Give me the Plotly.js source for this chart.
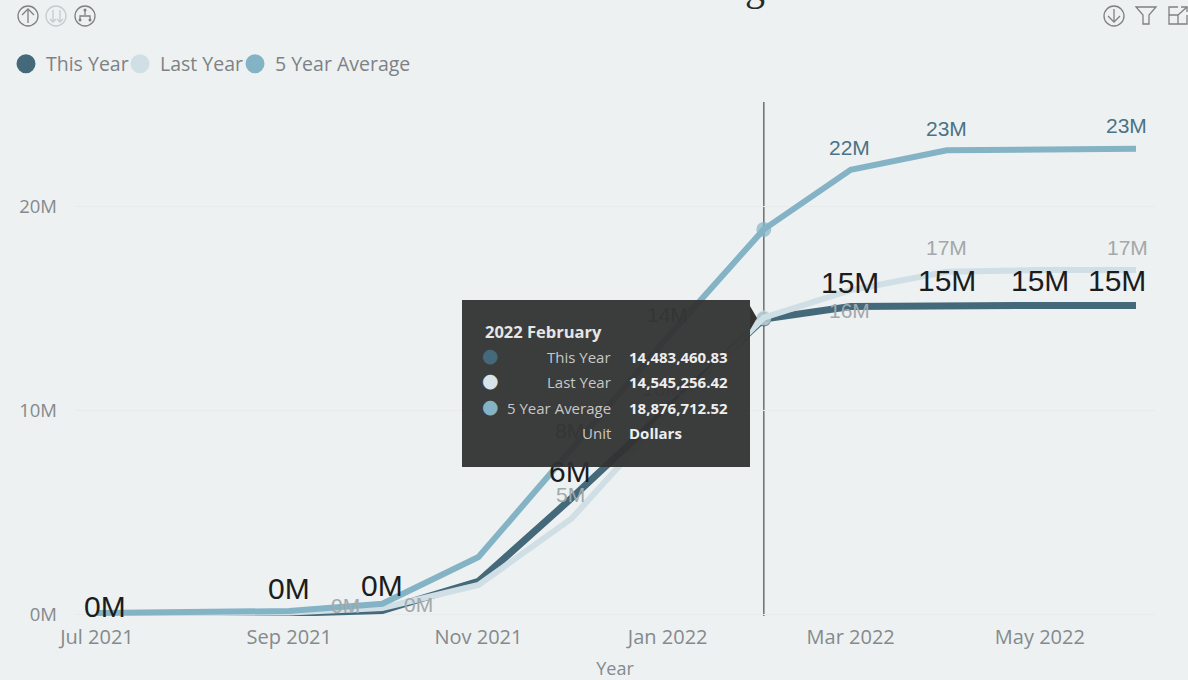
<!DOCTYPE html>
<html>
<head>
<meta charset="utf-8">
<script src="https://cdn.plot.ly/plotly-3.0.1.min.js"></script>
<style>html,body{margin:0;padding:0;overflow:hidden;background:#edf1f2}#c{width:1188px;height:680px}</style>
</head>
<body>
<div id="c"></div>
<script>
// ---------- data ----------
const months = ['2021-07-01','2021-08-01','2021-09-01','2021-10-01','2021-11-01','2021-12-01','2022-01-01','2022-02-01','2022-03-01','2022-04-01','2022-05-01','2022-06-01'];
const thisYear = [20000,30000,60000,200000,1620000,5700000,10100000,14483460.83,15100000,15150000,15150000,15150000];
const lastYear = [30000,40000,100000,320000,1450000,4700000,9900000,14545256.42,15900000,16800000,16880000,16880000];
const fiveYearAvg = [80000,90000,170000,530000,2820000,8100000,13600000,18876712.52,21800000,22750000,22820000,22830000];
const thisYearLabels = ['0M','','0M','0M','','6M','','','15M','15M','15M','15M'];
const lastYearLabels = ['','','0M','0M','','5M','10M','','16M','17M','','17M'];
const fiveYearLabels = ['','','','','','8M','14M','','22M','23M','','23M'];
const seriesNames = ['This Year','Last Year','5 Year Average'];
const yTickVals = [0,10000000,20000000];
const yTickText = ['0M','10M','20M'];
const tooltipTitle = '2022 February';
const tooltipRows = ['This Year','Last Year','5 Year Average','Unit'];
const tooltipVals = ['14,483,460.83','14,545,256.42','18,876,712.52','Dollars'];
const focusMonth = '2022-02-01';

// ---------- style ----------
const W = 1188, H = 680, L = 75, R = 33, T = 102, B = 64;
const cThis = '#44697a', cLast = '#cfdfe5', cAvg = '#84b3c5';
const bg = '#edf1f2';
const sans = '"Open Sans", "Noto Sans", sans-serif', arial = '"Liberation Sans", Arial, sans-serif';
const px = x => (x - L) / (W - L - R);
const py = y => 1 - (y - T) / (H - T - B);
const P = (pts, close) => 'M' + pts.map(p => px(p[0]).toFixed(5) + ',' + py(p[1]).toFixed(5)).join(' L') + (close ? ' Z' : '');

function lineTrace(name, ys, color, width) {
  return { type:'scatter', mode:'lines+markers', name, x:months, y:ys, showlegend:false, hoverinfo:'skip',
    line:{color, width, shape:'linear'},
    marker:{color, size:months.map(m => m === focusMonth ? 15 : 0), line:{width:0}} };
}
function legendTrace(name, color, legendId) {
  return { type:'scatter', mode:'markers', name, x:[null], y:[null], showlegend:true, legend:legendId, hoverinfo:'skip',
    marker:{color, size:16, line:{color, width:3}} };
}
const traces = [
  lineTrace(seriesNames[0], thisYear, cThis, 7),
  lineTrace(seriesNames[1], lastYear, cLast, 6),
  lineTrace(seriesNames[2], fiveYearAvg, cAvg, 6),
  legendTrace(seriesNames[0], cThis, 'legend'),
  legendTrace(seriesNames[1], cLast, 'legend2'),
  legendTrace(seriesNames[2], cAvg, 'legend3')
];

// label placement relative to the data point, in pixels [right, up]
const thisOffsets = {0:[8,8],2:[0,25],3:[0,25],5:[-2,27],8:[-1,24],9:[0,25],10:[0,25],11:[-19,25]};
const lastOffsets = {2:[56,7],3:[36,3],5:[-1,24],6:[-5,24],8:[-1,-20],9:[0,24],11:[-9,23]};
const avgOffsets = {5:[-2,19],6:[0,23],8:[-1,22],9:[0,22],11:[-10,23]};
const annotations = [];
function addLabels(labels, ys, offs, size, color) {
  labels.forEach((t,i) => { if(!t) return;
    annotations.push({xref:'x',yref:'y',x:months[i],y:ys[i],text:t,showarrow:false,xanchor:'center',yanchor:'middle',
      xshift:offs[i][0],yshift:offs[i][1],font:{family:arial,size,color},borderpad:0}); });
}
addLabels(lastYearLabels,lastYear,lastOffsets,21,'#a3a8aa');
addLabels(fiveYearLabels,fiveYearAvg,avgOffsets,21,'#4a7385');
addLabels(thisYearLabels,thisYear,thisOffsets,30,'#1c1c1c');

// tooltip panel (annotation so it covers the labels and lines beneath it)
annotations.push({xref:'paper',yref:'paper',x:px(462),y:py(299.5),xanchor:'left',yanchor:'top',text:' ',showarrow:false,
  width:288,height:167,bgcolor:'rgba(50,50,50,0.95)',borderpad:0,borderwidth:0});
const tip = (x,y,text,anchor,size,bold,color) => annotations.push({xref:'paper',yref:'paper',x:px(x),y:py(y),text:bold?'<b>'+text+'</b>':text,
  showarrow:false,xanchor:anchor,yanchor:'middle',font:{family:sans,size,color},borderpad:0});
tip(484,331,tooltipTitle,'left',16.5,true,'#e6e6e6');
const rowY = [357,382,408,433];
tooltipRows.forEach((r,i)=>{ tip(612,rowY[i],r,'right',15,false,'#c8c8c8'); tip(628,rowY[i],tooltipVals[i],'left',15,true,'#eeeeee'); });

// clipped report title descender at the very top of the frame
annotations.push({xref:'paper',yref:'paper',x:px(755),y:py(10),xanchor:'center',yanchor:'bottom',text:'g',showarrow:false,
  font:{family:'"Liberation Serif", serif',size:40,color:'#2a2a2a'},borderpad:0});

// ---------- shapes: crosshair, tooltip pointer, header icons ----------
const iconCol = '#808080', iconDim = '#c6cacc';
const shapes = [
  {type:'line',xref:'x',yref:'paper',x0:focusMonth,x1:focusMonth,y0:0,y1:1,line:{color:'#6e6e6e',width:1.5},layer:'below'},
  {type:'path',xref:'paper',yref:'paper',path:P([[750,306],[757,318],[750,330]],true),fillcolor:'#333333',line:{width:0},layer:'above'}
];
const circ = (x,y,r,fill,line,lw) => shapes.push({type:'circle',xref:'paper',yref:'paper',x0:px(x-r),x1:px(x+r),y0:py(y+r),y1:py(y-r),
  fillcolor:fill,line:{color:line,width:lw},layer:'above'});
const stroke = (pts,col,close) => shapes.push({type:'path',xref:'paper',yref:'paper',path:P(pts,close),line:{color:col,width:1.3},fillcolor:'rgba(0,0,0,0)',layer:'above'});
circ(28,16,10,'rgba(0,0,0,0)',iconCol,1.3); stroke([[28,23],[28,9]],iconCol); stroke([[22,15],[28,9],[34,15]],iconCol);
circ(56,16,10,'rgba(0,0,0,0)',iconDim,1.3); stroke([[53,10],[53,22]],iconDim); stroke([[50,19],[53,22],[56,19]],iconDim); stroke([[60,10],[60,22]],iconDim); stroke([[57,19],[60,22],[63,19]],iconDim);
circ(85,16,10,'rgba(0,0,0,0)',iconCol,1.3); stroke([[85,10],[85,15]],iconCol); stroke([[80,20],[80,16],[90,16],[90,20]],iconCol); circ(85,10,1.5,iconCol,iconCol,0); circ(80,20,1.5,iconCol,iconCol,0); circ(90,20,1.5,iconCol,iconCol,0);
circ(1114,16,10,'rgba(0,0,0,0)',iconCol,1.3); stroke([[1114,9],[1114,22]],iconCol); stroke([[1108,16],[1114,22],[1120,16]],iconCol);
stroke([[1136,7],[1156,7],[1149,15],[1149,24],[1143,24],[1143,15]],iconCol,true);
stroke([[1178,7],[1169,7],[1169,24],[1187,24],[1187,15]],iconCol); stroke([[1169,15],[1178,15],[1178,24]],iconCol); stroke([[1178,15],[1187,7]],iconCol); stroke([[1181,7],[1187,7],[1187,12]],iconCol);
// tooltip colour dots sit on top of the panel
const tooltipDots = [cThis,'#d8e4e9',cAvg];
tooltipDots.forEach((c,i)=>annotations.push({xref:'paper',yref:'paper',x:px(490),y:py(rowY[i]),yshift:2,text:'●',showarrow:false,xanchor:'center',yanchor:'middle',
  font:{family:'"DejaVu Sans"',size:19,color:c},borderpad:0}));

const legendBase = dotX => ({orientation:'h',xref:'container',yref:'container',x:(dotX-20)/W,xanchor:'left',y:1-64/H,yanchor:'middle',bgcolor:'rgba(0,0,0,0)',
  font:{family:sans,size:19.5,color:'#7d8284'},itemwidth:30,itemclick:false,itemdoubleclick:false});

const layout = {
  width:W,height:H,margin:{l:L,r:R,t:T,b:B,pad:0},autosize:false,
  paper_bgcolor:bg,plot_bgcolor:bg,
  font:{family:sans,color:'#858a8c'},
  showlegend:true,
  legend:legendBase(26),legend2:legendBase(140),legend3:legendBase(255),
  xaxis:{type:'date',range:['2021-06-23 22:00','2022-06-07 03:00'],tick0:'2021-07-01',dtick:'M2',tickformat:'%b %Y',showgrid:false,zeroline:false,showline:false,
    ticks:'',ticklabelstandoff:7,tickfont:{family:sans,size:20,color:'#858a8c'},
    title:{text:'Year',font:{family:sans,size:18,color:'#858a8c'},standoff:15}},
  yaxis:{range:[-73000,25120000],tickvals:yTickVals,ticktext:yTickText,showgrid:true,gridcolor:'#e7ebec',gridwidth:1.2,zeroline:false,showline:false,
    ticks:'',ticklabelstandoff:17,tickfont:{family:sans,size:18.5,color:'#858a8c'}},
  shapes,annotations,
  hovermode:false
};
Plotly.newPlot('c',traces,layout,{displayModeBar:false,staticPlot:true,responsive:false});
</script>
</body>
</html>
